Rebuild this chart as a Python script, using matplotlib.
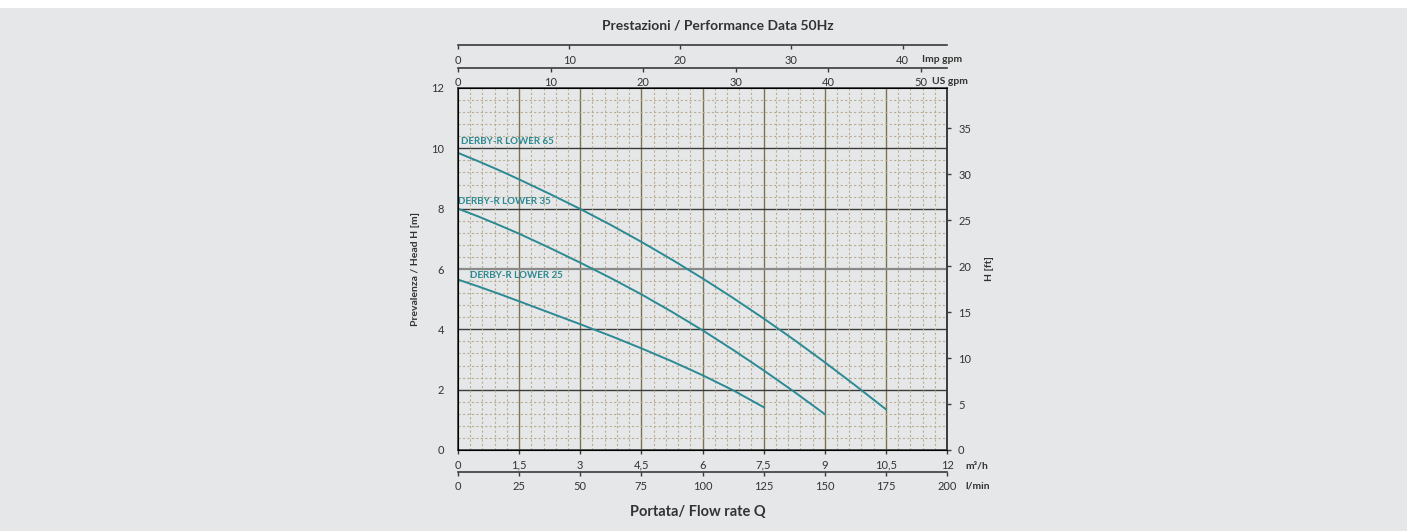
import matplotlib.pyplot as plt
from matplotlib.patches import Rectangle
from matplotlib.ticker import MultipleLocator

# Q in m3/h, H in m
Q_25 = [0, 0.5, 1.0, 1.5, 2.25, 3.0, 3.75, 4.5, 5.25, 6.0, 6.75, 7.5]
H_25 = [5.65, 5.42, 5.18, 4.93, 4.55, 4.17, 3.78, 3.37, 2.94, 2.48, 1.98, 1.42]
Q_35 = [0, 0.5, 1.0, 1.5, 2.25, 3.0, 3.75, 4.5, 5.25, 6.0, 6.75, 7.5, 8.25, 9.0]
H_35 = [8.0, 7.74, 7.46, 7.17, 6.70, 6.21, 5.70, 5.16, 4.58, 3.97, 3.32, 2.64, 1.93, 1.19]
Q_65 = [0, 0.5, 1.0, 1.5, 2.25, 3.0, 3.75, 4.5, 5.25, 6.0, 6.75, 7.5, 8.25, 9.0, 9.75, 10.5]
H_65 = [9.85, 9.57, 9.28, 8.97, 8.49, 7.99, 7.46, 6.90, 6.31, 5.69, 5.04, 4.36, 3.65, 2.91, 2.14, 1.35]

CURVES = [
    ("DERBY-R LOWER 65", Q_65, H_65, (0.07, 10.24)),
    ("DERBY-R LOWER 35", Q_35, H_35, (0.0, 8.25)),
    ("DERBY-R LOWER 25", Q_25, H_25, (0.3, 5.8)),
]

M3H_TICKS = [0, 1.5, 3, 4.5, 6, 7.5, 9, 10.5, 12]
M3H_LABELS = ["0", "1,5", "3", "4,5", "6", "7,5", "9", "10,5", "12"]
LMIN_TICKS = [0, 25, 50, 75, 100, 125, 150, 175, 200]
USGPM_TICKS = [0, 10, 20, 30, 40, 50]
IMPGPM_TICKS = [0, 10, 20, 30, 40]
FT_TICKS = [0, 5, 10, 15, 20, 25, 30, 35]

Q_MAX = 12.0
H_MAX = 12.0
LMIN_MAX = Q_MAX * 1000 / 60
USGPM_MAX = LMIN_MAX / 3.78541
IMPGPM_MAX = LMIN_MAX / 4.54609
FT_MAX = H_MAX * 3.28084

W, H = 1407, 531
BG = "#e6e7e8"
TEAL = "#2b8a94"
DARK = "#3a3a3a"
TXT = "#333333"
TICK_FS = 8

plt.rcParams["font.family"] = ["Lato", "DejaVu Sans"]


def fx(px):
    return px / W


def fy(py):
    return 1 - py / H


fig = plt.figure(figsize=(W / 100, H / 100), dpi=100, facecolor=BG)
fig.patches.append(Rectangle((0, fy(8)), 1, 1 - fy(8), transform=fig.transFigure,
                             facecolor="white", edgecolor="none", zorder=0))

left, right, top, bottom = 458, 947, 88, 450
ax = fig.add_axes([fx(left), fy(bottom), fx(right - left), fy(top) - fy(bottom)])
ax.set_facecolor(BG)
ax.set_xlim(0, Q_MAX)
ax.set_ylim(0, H_MAX)

# grid: dotted minor, solid major
ax.xaxis.set_minor_locator(MultipleLocator(0.3))
ax.yaxis.set_minor_locator(MultipleLocator(0.4))
ax.grid(which="minor", color="#b9ae92", linestyle=(0, (2, 2)), linewidth=0.8)
for q in M3H_TICKS[1:-1]:
    ax.axvline(q, color="#7b7450", linewidth=1.0, zorder=1)
for h in [2, 4, 8, 10]:
    ax.axhline(h, color=DARK, linewidth=1.0, zorder=1)
ax.axhline(6, color="#8a8a8a", linewidth=1.6, zorder=1)

for name, q, h, (lx, ly) in CURVES:
    ax.plot(q, h, color=TEAL, linewidth=1.4, zorder=3)
    ax.text(lx, ly, name, color=TEAL, fontsize=7, fontweight="bold",
            ha="left", va="center", zorder=4)

for s in ax.spines.values():
    s.set_color(DARK)
    s.set_linewidth(1.2)

ax.set_xticks(M3H_TICKS)
ax.set_xticklabels(M3H_LABELS)
ax.set_yticks([0, 2, 4, 6, 8, 10, 12])
ax.tick_params(axis="x", which="major", length=3, width=1, color=DARK,
               labelsize=TICK_FS, labelcolor=TXT, pad=4)
ax.tick_params(axis="y", which="major", length=0, labelsize=TICK_FS,
               labelcolor=TXT, pad=10)
ax.tick_params(which="minor", length=0)
ax.set_ylabel("Prevalenza / Head H [m]", fontsize=7.5, fontweight="bold",
              color=TXT, labelpad=8)

axr = ax.twinx()
axr.set_ylim(0, FT_MAX)
axr.set_yticks(FT_TICKS)
axr.tick_params(axis="y", length=3, width=1, color=DARK, labelsize=TICK_FS,
                labelcolor=TXT, pad=5)
axr.spines["right"].set_color(DARK)
axr.spines["right"].set_linewidth(1.2)
axr.set_ylabel("H [ft]", fontsize=7.5, fontweight="bold", color=TXT,
               labelpad=10)


def scale_axis(py, vmax, ticks):
    a = fig.add_axes([fx(left), fy(py), fx(right - left), 0.0001])
    a.set_facecolor("none")
    for side in ["left", "right", "top"]:
        a.spines[side].set_visible(False)
    a.spines["bottom"].set_color(DARK)
    a.spines["bottom"].set_linewidth(1.2)
    a.set_xlim(0, vmax)
    a.set_yticks([])
    a.set_xticks(ticks)
    a.tick_params(axis="x", length=3, width=1, color=DARK, labelsize=TICK_FS,
                  labelcolor=TXT, pad=4)
    return a


scale_axis(45, IMPGPM_MAX, IMPGPM_TICKS)
scale_axis(67.5, USGPM_MAX, USGPM_TICKS)
scale_axis(471.5, LMIN_MAX, LMIN_TICKS)

unit_kw = dict(fontsize=7.5, fontweight="bold", color=TXT, va="center", ha="left")
fig.text(fx(922), fy(59), "Imp gpm", **unit_kw)
fig.text(fx(932), fy(81), "US gpm", **unit_kw)
fig.text(fx(965), fy(466), "m³/h", **unit_kw)
fig.text(fx(965), fy(486), "l/min", **unit_kw)

fig.text(fx(718), fy(26), "Prestazioni / Performance Data 50Hz", fontsize=10,
         fontweight="bold", color=TXT, ha="center", va="center")
fig.text(fx(698), fy(512), "Portata/ Flow rate Q", fontsize=10.5,
         fontweight="bold", color=TXT, ha="center", va="center")

fig.savefig("out.png", dpi=100, facecolor=BG)
